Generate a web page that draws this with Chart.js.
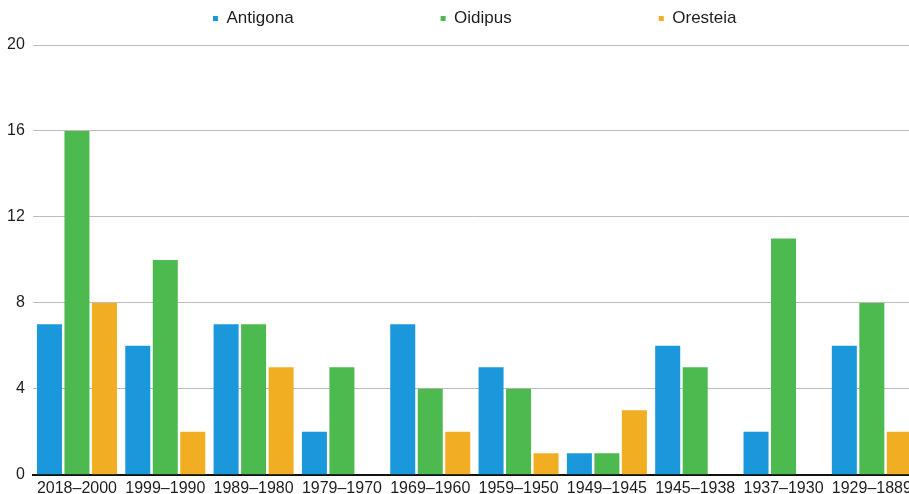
<!DOCTYPE html>
<html>
<head>
<meta charset="utf-8">
<script src="https://cdn.jsdelivr.net/npm/chart.js@4/dist/chart.umd.min.js"></script>
<style>
  html, body { margin: 0; padding: 0; background: #ffffff; overflow: hidden; }
  #wrap { width: 916px; height: 502px; }
</style>
</head>
<body>
<div id="wrap"><canvas id="chart" width="916" height="502"></canvas></div>
<script>
// Period labels (newest first)
const periods = ['2018–2000', '1999–1990', '1989–1980', '1979–1970', '1969–1960',
                 '1959–1950', '1949–1945', '1945–1938', '1937–1930', '1929–1889'];

// Number of productions per period
const antigona = [7, 6, 7, 2, 7, 5, 1, 6, 2, 6];
const oidipus  = [16, 10, 7, 5, 4, 4, 1, 5, 11, 8];
const oresteia = [8, 2, 5, 0, 2, 1, 3, 0, 0, 2];

// Value axis ticks
const yTicks = [0, 4, 8, 12, 16, 20];

const FONT = '"Liberation Sans", Arial, Helvetica, sans-serif';
const TEXT = '#1e1e1e';

// Places the legend row at a fixed spot above the plot
const LEGEND_X = 213;
const LEGEND_Y = 10;
const legendPlacement = {
  id: 'legendPlacement',
  afterLayout(chart) {
    const lg = chart.legend;
    if (!lg) return;
    const p = lg.options.labels.padding;
    lg.left = LEGEND_X - p;
    lg.right = chart.width + 300;
    lg.top = LEGEND_Y - p;
  }
};

new Chart(document.getElementById('chart'), {
  type: 'bar',
  data: {
    labels: periods,
    datasets: [
      { label: 'Antigona', data: antigona, backgroundColor: '#1b97db' },
      { label: 'Oidipus',  data: oidipus,  backgroundColor: '#4dba50' },
      { label: 'Oresteia', data: oresteia, backgroundColor: '#f1ae22' }
    ]
  },
  options: {
    responsive: false,
    animation: false,
    devicePixelRatio: 1,
    layout: { padding: { left: -1, right: 0, top: 0, bottom: 0 } },
    datasets: {
      bar: { categoryPercentage: 0.934, barPercentage: 0.91, borderWidth: 0 }
    },
    plugins: {
      legend: {
        position: 'top',
        align: 'start',
        maxHeight: 45,
        labels: {
          boxWidth: 5,
          boxHeight: 5,
          padding: 147,
          color: TEXT,
          font: { family: FONT, size: 17 }
        }
      },
      tooltip: { enabled: false }
    },
    scales: {
      x: {
        grid: { display: false, drawTicks: false },
        border: { display: true, color: '#111111', width: 2 },
        ticks: {
          color: TEXT,
          padding: 4,
          maxRotation: 0,
          autoSkip: false,
          font: { family: FONT, size: 16 }
        }
      },
      y: {
        min: 0,
        max: 20,
        afterBuildTicks(scale) { scale.ticks = yTicks.map(v => ({ value: v })); },
        grid: { color: '#c2b9b9', lineWidth: 1, drawTicks: false },
        border: { display: false },
        ticks: {
          color: TEXT,
          padding: 8,
          font: { family: FONT, size: 16 }
        }
      }
    }
  },
  plugins: [legendPlacement]
});
</script>
</body>
</html>
